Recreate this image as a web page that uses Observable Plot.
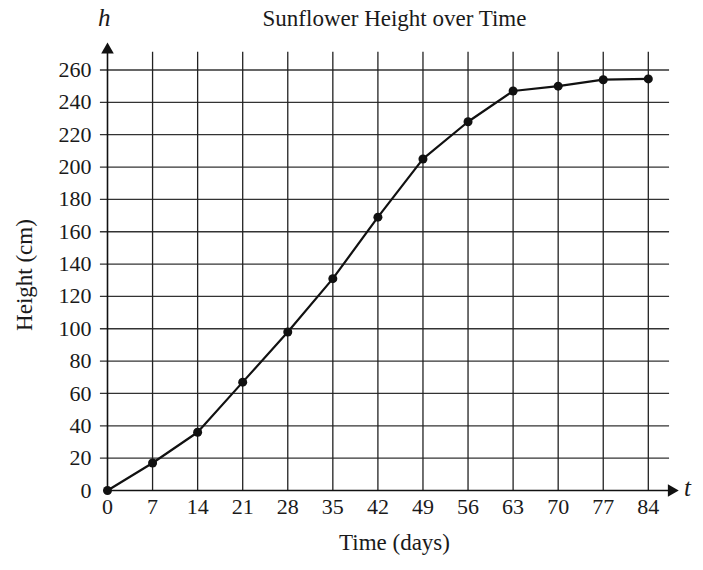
<!DOCTYPE html>
<html><head><meta charset="utf-8">
<script src="https://cdn.jsdelivr.net/npm/d3@7"></script>
<script src="https://cdn.jsdelivr.net/npm/@observablehq/plot@0.6"></script>
<style>
body{margin:0;background:#fff;font-family:"Liberation Serif","DejaVu Serif",serif;}
#wrap{position:relative;width:703px;height:570px;}
.lab{position:absolute;color:#1a1a1a;font-family:"Liberation Serif",serif;}
</style></head><body>
<div id="wrap"></div>
<script>
const days = [0,7,14,21,28,35,42,49,56,63,70,77,84];
const heights = [0,17,36,67,98,131,169,205,228,247,250,254,254.5];
const xTicks = [0,7,14,21,28,35,42,49,56,63,70,77,84];
const yTicks = [0,20,40,60,80,100,120,140,160,180,200,220,240,260];
const data = days.map((d,i)=>({t:d,h:heights[i]}));
const plot = Plot.plot({
  width:703, height:570, marginLeft:107, marginRight:23, marginTop:42, marginBottom:80,
  style:{fontFamily:"'Liberation Serif',serif", fontSize:"22px", color:"#1a1a1a", background:"#fff"},
  x:{domain:[0,89], label:null},
  y:{domain:[0,277], label:null},
  marks:[
    Plot.ruleY(yTicks.filter(v=>v>0), {x1:-1.1, x2:87.3, stroke:"#333", strokeWidth:1.3}),
    Plot.ruleX(xTicks.filter(v=>v>0), {y1:0, y2:271, stroke:"#222", strokeWidth:1.3}),
    Plot.ruleY([0], {x1:0, x2:87.5, stroke:"#111", strokeWidth:1.6}),
    Plot.ruleX([0], {y1:0, y2:272, stroke:"#111", strokeWidth:1.6}),
    Plot.dot([{x:87.6,y:0}], {x:"x", y:"y", symbol:"triangle2", r:6, fill:"#111", rotate:90}),
    Plot.dot([{x:0,y:272.5}], {x:"x", y:"y", symbol:"triangle2", r:6, fill:"#111"}),
    Plot.line(data, {x:"t", y:"h", stroke:"#111", strokeWidth:2.2}),
    Plot.dot(data, {x:"t", y:"h", r:4.5, fill:"#111"}),
    Plot.axisX({ticks:xTicks, tickSize:0, tickPadding:8, fontSize:22}),
    Plot.axisY({ticks:yTicks, tickSize:0, tickPadding:16, fontSize:22})
  ]
});
const w = document.getElementById("wrap");
w.appendChild(plot);
function lab(txt, css){const d=document.createElement("div");d.className="lab";d.textContent=txt;Object.assign(d.style,css);w.appendChild(d);}
lab("Sunflower Height over Time",{left:"0",width:"703px",textAlign:"center",top:"6px",fontSize:"23px",paddingLeft:"86px",boxSizing:"border-box"});
lab("h",{left:"98px",top:"4px",fontSize:"25px",fontStyle:"italic"});
lab("t",{left:"684px",top:"474px",fontSize:"25px",fontStyle:"italic"});
lab("Time (days)",{left:"0",width:"703px",textAlign:"center",top:"530px",fontSize:"23px",paddingLeft:"86px",boxSizing:"border-box"});
lab("Height (cm)",{left:"-40px",top:"262px",fontSize:"23px",transform:"rotate(-90deg)",transformOrigin:"center",width:"130px",textAlign:"center"});
</script>
</body></html>
